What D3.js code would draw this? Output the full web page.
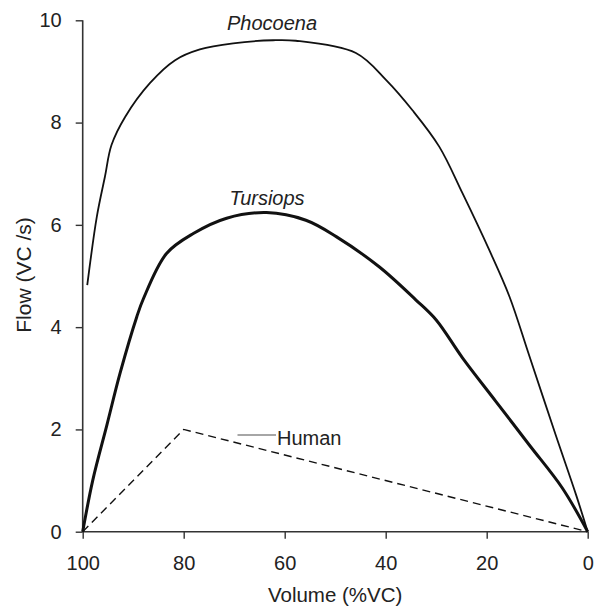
<!DOCTYPE html>
<html>
<head>
<meta charset="utf-8">
<script src="https://cdn.jsdelivr.net/npm/d3@7"></script>
<style>
html,body{margin:0;padding:0;background:#fff;}
svg{display:block;font-family:Arial,"Liberation Sans",Helvetica,sans-serif;}
</style>
</head>
<body>
<svg id="chart" width="596" height="607"></svg>
<script>
const phocoenaVolume = [99.1, 97.2, 95.6, 94.3, 91.6, 86.7, 81.7, 76.8, 70.2, 62.3, 57.8, 45.9, 39.9, 34.7, 29.4, 24.8, 19.5, 15.5, 11.6, 6.3, 2.3, 0];
const phocoenaFlow   = [4.82, 6.16, 6.94, 7.56, 8.11, 8.77, 9.22, 9.43, 9.55, 9.61, 9.60, 9.36, 8.83, 8.24, 7.53, 6.62, 5.51, 4.60, 3.45, 1.88, 0.72, 0];
const tursiopsVolume = [100, 98.0, 95.2, 92.6, 89.3, 88.0, 83.4, 78.1, 71.5, 63.6, 55.8, 49.8, 41.3, 34.0, 30.0, 24.8, 18.2, 11.6, 5.0, 0];
const tursiopsFlow   = [0, 1.01, 2.09, 3.10, 4.20, 4.55, 5.44, 5.83, 6.13, 6.24, 6.09, 5.77, 5.18, 4.53, 4.14, 3.40, 2.55, 1.70, 0.85, 0];
const humanVolume = [100, 80, 0];
const humanFlow   = [0, 2, 0];
const xTicks = [100, 80, 60, 40, 20, 0];
const yTicks = [0, 2, 4, 6, 8, 10];
const labels = [
  {text: "Phocoena", vol: 62.5, flow: 9.81, italic: true},
  {text: "Tursiops", vol: 63.5, flow: 6.38, italic: true},
];

const svg = d3.select("#chart");
const x = d3.scaleLinear().domain([100, 0]).range([82.7, 587.7]);
const y = d3.scaleLinear().domain([0, 10]).range([531.7, 20.3]);
const axisColor = "#333";

// axes
const gx = svg.append("g").attr("transform", `translate(0,${y(0)})`)
  .call(d3.axisBottom(x).tickValues(xTicks).tickSize(7).tickPadding(17).tickFormat(d3.format("d")));
const gy = svg.append("g").attr("transform", `translate(${x(100)},0)`)
  .call(d3.axisLeft(y).tickValues(yTicks).tickSize(7).tickPadding(14).tickFormat(d3.format("d")));
[gx, gy].forEach(g => {
  g.select(".domain").attr("stroke", axisColor).attr("stroke-width", 1.6);
  g.selectAll(".tick line").attr("stroke", axisColor).attr("stroke-width", 1.4);
  g.selectAll(".tick text").attr("fill", "#222").style("font-size", "20px").style("font-family", "Arial, 'Liberation Sans', sans-serif");
});
gx.select(".domain").attr("d", `M${x(100)},0H${x(0)}`);
gy.select(".domain").attr("d", `M0,${y(10)}V${y(0)}`);

const line = d3.line().x(d => x(d[0])).y(d => y(d[1]));
const smooth = d3.line().x(d => x(d[0])).y(d => y(d[1])).curve(d3.curveCatmullRom.alpha(0.5));
const zip = (a, b) => a.map((v, i) => [v, b[i]]);

svg.append("path").datum(zip(humanVolume, humanFlow)).attr("d", line)
  .attr("fill", "none").attr("stroke", "#111").attr("stroke-width", 1.4).attr("stroke-dasharray", "8,5");
svg.append("path").datum(zip(tursiopsVolume, tursiopsFlow)).attr("d", smooth)
  .attr("fill", "none").attr("stroke", "#111").attr("stroke-width", 3).attr("stroke-linejoin", "round");
svg.append("path").datum(zip(phocoenaVolume, phocoenaFlow)).attr("d", smooth)
  .attr("fill", "none").attr("stroke", "#111").attr("stroke-width", 1.8).attr("stroke-linejoin", "round");

// labels
labels.forEach(l => {
  svg.append("text").attr("x", x(l.vol)).attr("y", y(l.flow))
    .attr("text-anchor", "middle").attr("fill", "#222")
    .style("font-size", "20px").style("font-style", l.italic ? "italic" : "normal")
    .text(l.text);
});
// Human label with leader
svg.append("line").attr("x1", 237.5).attr("x2", 276).attr("y1", 435).attr("y2", 435)
  .attr("stroke", "#888").attr("stroke-width", 1.5);
svg.append("text").attr("x", 277).attr("y", 445).attr("fill", "#222")
  .style("font-size", "20px").text("Human");

// axis titles
svg.append("text").attr("x", (x(100) + x(0)) / 2).attr("y", 601.5)
  .attr("text-anchor", "middle").attr("fill", "#222").style("font-size", "20.5px").text("Volume (%VC)");
svg.append("text").attr("transform", `translate(31,275) rotate(-90)`)
  .attr("text-anchor", "middle").attr("fill", "#222").style("font-size", "21px").text("Flow (VC /s)");
</script>
</body>
</html>
